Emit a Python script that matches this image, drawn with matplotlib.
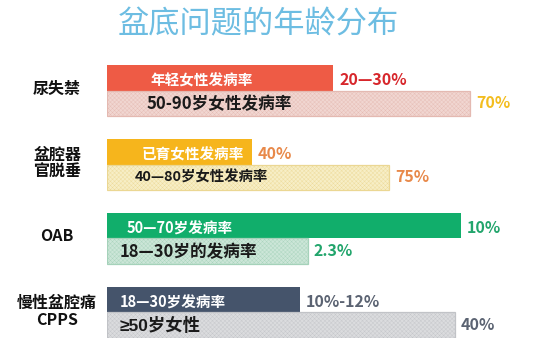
import matplotlib
matplotlib.use("Agg")
import matplotlib.pyplot as plt

plt.rcParams['font.family'] = ['Noto Sans CJK SC', 'DejaVu Sans']
plt.rcParams['hatch.linewidth'] = 0.25

title = "盆底问题的年龄分布"
categories = ["尿失禁", "盆腔器\n官脱垂", "OAB", "慢性盆腔痛\nCPPS"]

# bar lengths (relative), top and bottom bar per group
top_lengths = [226, 145, 354, 193]
bottom_lengths = [363, 282, 201, 348]
top_labels = ["年轻女性发病率", "已育女性发病率", "50—70岁发病率", "18—30岁发病率"]
bottom_labels = ["50-90岁女性发病率", "40—80岁女性发病率", "18—30岁的发病率", "≥50岁女性"]
top_values = ["20—30%", "40%", "10%", "10%-12%"]
bottom_values = ["70%", "75%", "2.3%", "40%"]

top_colors = ["#EE5B45", "#F6B51C", "#11AE6B", "#45546B"]
bottom_colors = ["#F1D6D1", "#F7EEC6", "#CCE6D8", "#DBDCDE"]
bottom_edges = ["#E4B9B1", "#EBD793", "#A5D2BA", "#C1C3C7"]
top_value_colors = ["#D7262B", "#E8894A", "#22A56C", "#5B6372"]
bottom_value_colors = ["#F3BD1F", "#E8894A", "#22A56C", "#5B6372"]
top_text_offsets = [43, 35, 20, 13]
bottom_text_offsets = [40, 28, 13, 13]
bottom_font = [12, 10.4, 12, 12.5]
bottom_family = [None, None, None, ['Liberation Sans', 'Noto Sans CJK SC']]

W, H = 540, 351
fig = plt.figure(figsize=(W / 100, H / 100), dpi=100)
ax = fig.add_axes([107 / W, (H - 338) / H, (W - 107) / W, (338 - 65) / H])
ax.set_xlim(0, W - 107)
ax.set_ylim(10.2, -0.5)
ax.axis("off")

pitch = 2.9
for i in range(len(categories)):
    yt = i * pitch
    yb = yt + 1
    ax.barh(yt, top_lengths[i], height=1.0, color=top_colors[i], left=0)
    ax.barh(yb, bottom_lengths[i], height=1.0, color=bottom_colors[i], linewidth=0, left=0)
    ax.barh(yb, bottom_lengths[i], height=1.0, fill=False,
            edgecolor=bottom_edges[i], hatch="xxxxxxxx", linewidth=0.9, left=0)
    ax.text(top_text_offsets[i], yt + 0.12, top_labels[i], color="white",
            fontsize=10.5, fontweight="bold", va="center", ha="left")
    kw = {}
    if bottom_family[i]:
        kw["family"] = bottom_family[i]
    ax.text(bottom_text_offsets[i], yb + 0.02, bottom_labels[i], color="#1a1a1a",
            fontsize=bottom_font[i], fontweight="bold", va="center", ha="left", **kw)
    ax.text(top_lengths[i] + 6, yt + 0.1, top_values[i], color=top_value_colors[i],
            fontsize=11.5, fontweight="bold", va="center", ha="left", clip_on=False)
    ax.text(bottom_lengths[i] + 6, yb + 0.0, bottom_values[i], color=bottom_value_colors[i],
            fontsize=11.5, fontweight="bold", va="center", ha="left", clip_on=False)
    ax.text(-50, yt + 0.45 + (0.0 if i != 2 else -0.05), categories[i], color="#111111",
            fontsize=11.5, fontweight="bold", va="center", ha="center",
            linespacing=1.1, clip_on=False)

fig.text(258 / W, 1 - 24 / H, title, color="#6DBDE2", fontsize=22.5,
         ha="center", va="center")

fig.savefig("out.png", dpi=100, facecolor="white")
